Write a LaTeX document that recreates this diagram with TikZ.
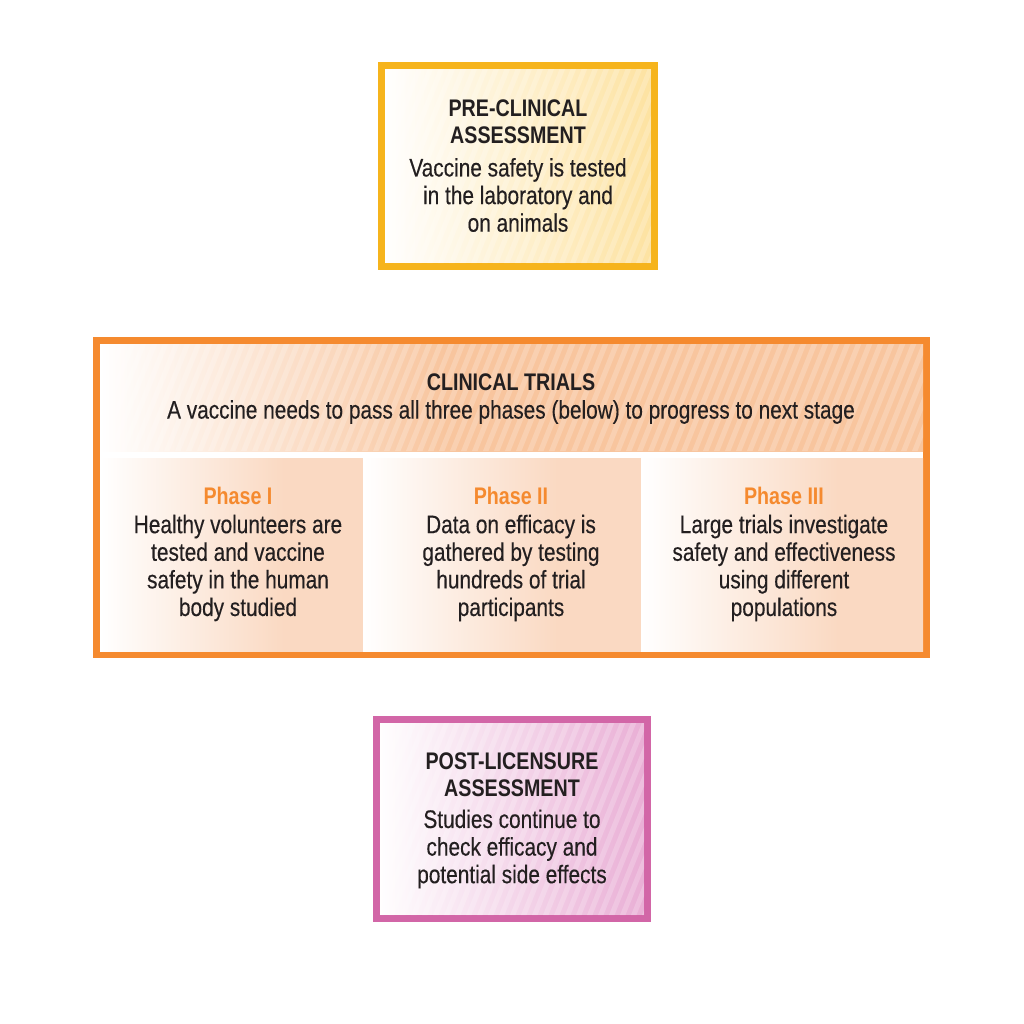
\documentclass[tikz,border=0pt]{standalone}
\usepackage{fontspec}
\setmainfont{Liberation Sans}[FakeStretch=0.82]
\newfontfamily\bodyfont{Liberation Sans}[FakeStretch=0.82, FakeBold=0.3]
\definecolor{preline}{HTML}{F6B41C}
\definecolor{prefill}{HTML}{FDE2A0}
\definecolor{clinline}{HTML}{F58A2F}
\definecolor{clinfill}{HTML}{F8C59E}
\definecolor{phasefill}{HTML}{FAD9C2}
\definecolor{postline}{HTML}{D266A7}
\definecolor{postfill}{HTML}{E9AED5}
\definecolor{ink}{HTML}{231F20}

\pgfdeclarehorizontalshading{headshade}{100bp}{color(0bp)=(white); color(25bp)=(white); color(46bp)=(clinfill); color(100bp)=(clinfill)}
\pgfdeclarehorizontalshading{phaseshade}{100bp}{color(0bp)=(white); color(25bp)=(white); color(60bp)=(phasefill); color(100bp)=(phasefill)}

% light diagonal stripes over a rectangle: x1, y1, x2, y2
\newcommand{\stripebox}[4]{%
  \begin{scope}
    \clip (#1,#2) rectangle (#3,#4);
    \foreach \s in {0,...,85}
      \fill[white, opacity=0.2] ({#1-90+11*\s},#4) -- ++(5.5,0)
        -- ++({0.4*(#4-#2)},{-(#4-#2)}) -- ++(-5.5,0) -- cycle;
  \end{scope}}

\begin{document}
\begin{tikzpicture}[x=0.5pt, y=-0.5pt,
    every node/.style={align=center, text=ink, inner sep=0pt},
    titletext/.style={font=\fontsize{12}{13.5}\selectfont\bfseries},
    bodytext/.style={font=\fontsize{12.7}{13.8}\bodyfont},
    phasetitle/.style={font=\fontsize{12}{13.5}\selectfont\bfseries, text=clinline},
    stagebox/.style={rectangle, draw, line width=3.5pt, minimum width=#1}]
    \useasboundingbox (0,0) rectangle (1024,1024);

    % Pre-clinical
    \node[stagebox=136.5pt, minimum height=100.5pt, draw=preline,
          left color=white, right color=prefill] (preclin) at (518,166) {};
    \stripebox{385}{69}{651}{263}
    \node[titletext] (pretitle) at (518,122) {PRE-CLINICAL\\ASSESSMENT};
    \node[bodytext] (prebody) at (518,195) {Vaccine safety is tested\\in the laboratory and\\on animals};

    % Clinical trials
    \node[stagebox=415pt, minimum height=157pt, draw=clinline, fill=white] (clinical) at (511.5,497.5) {};
    \shade[shading=headshade] (100,344) rectangle (923,451);
    \stripebox{100}{344}{923}{451}
    \shade[shading=phaseshade] (100,458) rectangle (363,651);
    \shade[shading=phaseshade] (363,458) rectangle (641,651);
    \shade[shading=phaseshade] (641,458) rectangle (923,651);
    \node[titletext] (clintitle) at (511,382) {CLINICAL TRIALS};
    \node[bodytext] (clinbody) at (511,412) {A vaccine needs to pass all three phases (below) to progress to next stage};

    \node[phasetitle] (phaseone) at (238,496) {Phase I};
    \node[bodytext] (phaseonebody) at (238,568) {Healthy volunteers are\\tested and vaccine\\safety in the human\\body studied};
    \node[phasetitle] (phasetwo) at (511,496) {Phase II};
    \node[bodytext] (phasetwobody) at (511,568) {Data on efficacy is\\gathered by testing\\hundreds of trial\\participants};
    \node[phasetitle] (phasethree) at (784,496) {Phase III};
    \node[bodytext] (phasethreebody) at (784,568) {Large trials investigate\\safety and effectiveness\\using different\\populations};

    % Post-licensure
    \node[stagebox=135.5pt, minimum height=99.5pt, draw=postline,
          left color=white, right color=postfill] (postlic) at (512,819) {};
    \stripebox{380}{723}{644}{915}
    \node[titletext] (posttitle) at (512,775) {POST-LICENSURE\\ASSESSMENT};
    \node[bodytext] (postbody) at (512,849) {Studies continue to\\check efficacy and\\potential side effects};
\end{tikzpicture}
\end{document}
